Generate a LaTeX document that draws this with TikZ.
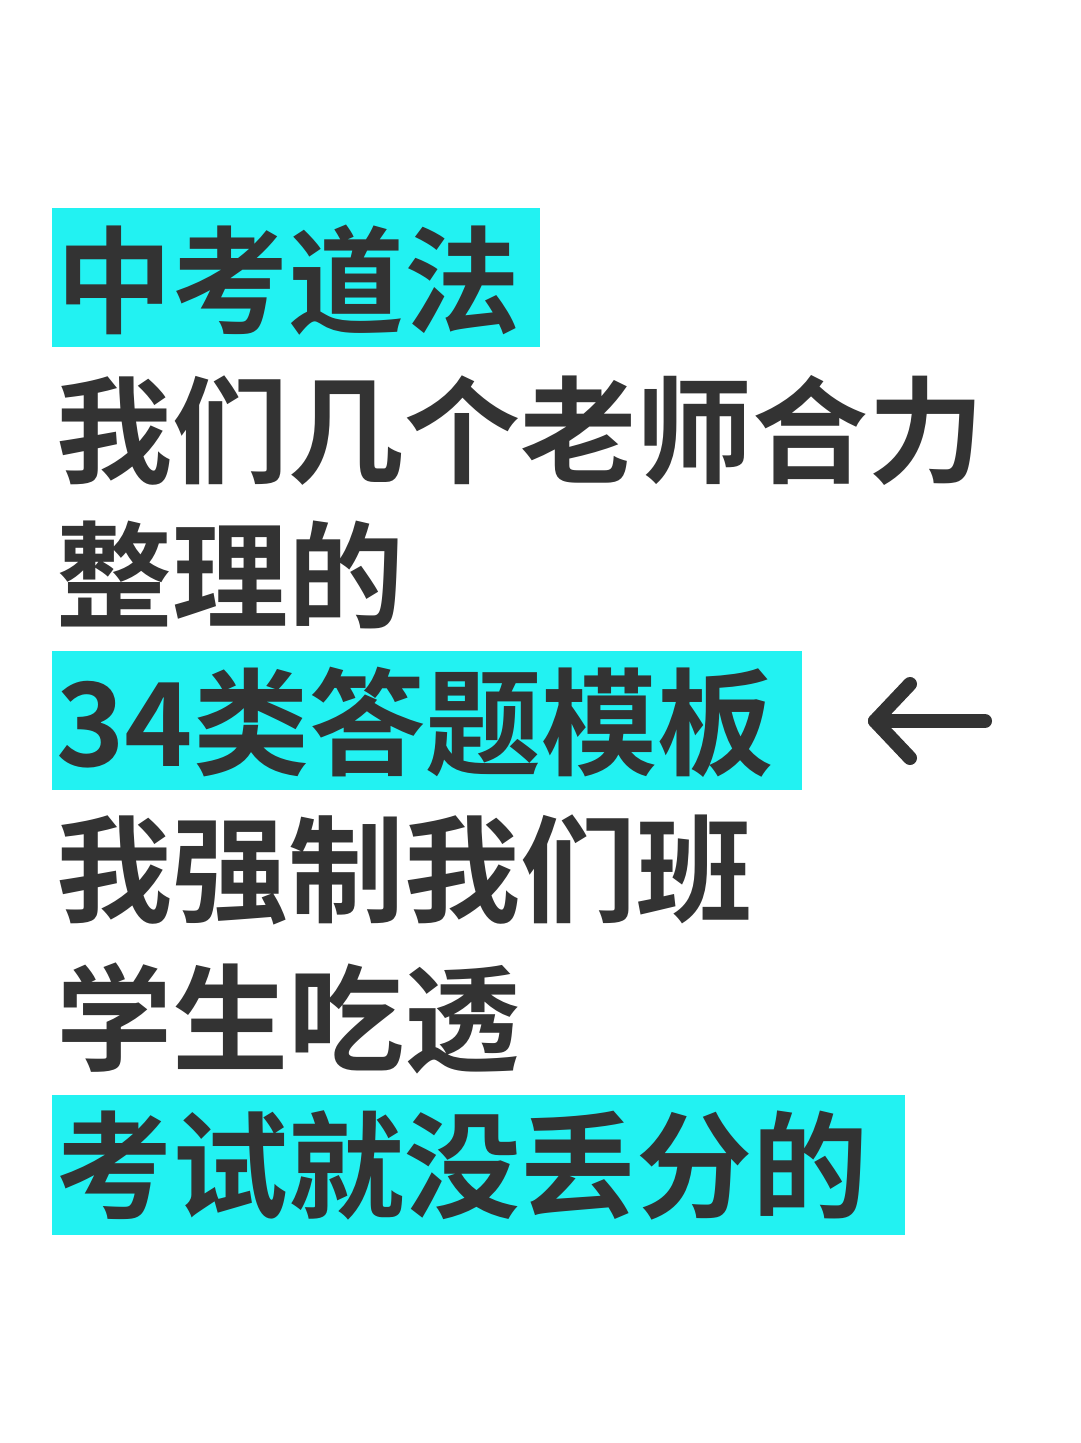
\documentclass[tikz,border=0pt]{standalone}
\usepackage{fontspec}
\newfontfamily\cjk{Noto Sans CJK SC Bold}
\definecolor{hl}{HTML}{22F2F2}
\definecolor{ink}{HTML}{333333}
\begin{document}
\begin{tikzpicture}[x=1pt,y=-1pt,
  txt/.style={anchor=west,inner sep=0pt,text=ink,font=\cjk\fontsize{116}{116}\selectfont},
  hlbox/.style={fill=hl,draw=none}]
\useasboundingbox[fill=white] (0,0) rectangle (1080,1443);
\fill[hlbox] (52,208) rectangle (540,347);
\fill[hlbox] (52,651) rectangle (802,790);
\fill[hlbox] (52,1095) rectangle (905,1235);
\node[txt] (l1) at (56,280) {中考道法};
\node[txt] (l2) at (56,430) {我们几个老师合力};
\node[txt] (l3) at (56,575) {整理的};
\node[txt] (l4) at (56,722) {34类答题模板};
\node[txt] (l5) at (56,870) {我强制我们班};
\node[txt] (l6) at (56,1018) {学生吃透};
\node[txt] (l7) at (56,1165) {考试就没丢分的};
\coordinate (a1) at (985,721);
\coordinate (a2) at (875,721);
\draw[ink,line width=14pt,line cap=round,line join=round] (a1) -- (a2);
\draw[ink,line width=14pt,line cap=round,line join=round] (910,684) -- (a2) -- (910,758);
\end{tikzpicture}
\end{document}
